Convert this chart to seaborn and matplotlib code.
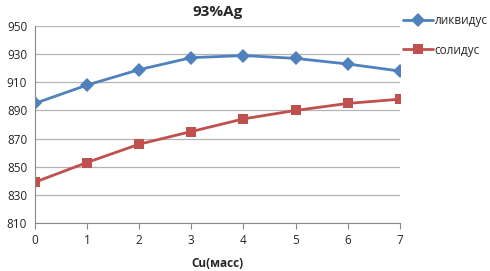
import matplotlib
matplotlib.use('Agg')
import matplotlib.pyplot as plt
import seaborn as sns
import pandas as pd

cu = [0, 1, 2, 3, 4, 5, 6, 7]
liquidus = [895, 908, 919, 927.5, 929, 927, 923, 918]
solidus = [839, 853, 866, 875, 884, 890, 895, 898]

sns.set_style('white')
plt.rcParams['font.family'] = ['Open Sans', 'DejaVu Sans']

df = pd.DataFrame({'Cu': cu + cu,
                   'T': liquidus + solidus,
                   'series': ['ликвидус'] * len(cu) + ['солидус'] * len(cu)})

fig = plt.figure(figsize=(4.9, 2.71), dpi=100)
ax = fig.add_axes([0.071, 0.177, 0.745, 0.727])

sns.lineplot(data=df, x='Cu', y='T', hue='series', style='series',
             palette=['#4F81BD', '#C0504D'], markers=['D', 's'], dashes=False,
             linewidth=2.0, markersize=7.5, markeredgewidth=0, ax=ax)

ax.set_xlim(0, 7)
ax.set_ylim(810, 950)
ax.set_yticks(range(810, 951, 20))
ax.set_xticks(cu)
ax.grid(axis='y', color='#b4b4b4', linewidth=0.9)
ax.set_axisbelow(True)
for s in ['top', 'right']:
    ax.spines[s].set_visible(False)
for s in ['left', 'bottom']:
    ax.spines[s].set_color('#888888')
ax.tick_params(axis='x', bottom=True, length=4, color='#888888', labelsize=8.5, pad=4)
ax.tick_params(axis='y', left=False, labelsize=8.5, pad=2)
ax.set_xlabel('Cu(масс)', fontsize=8.5, fontweight='bold', labelpad=7)
ax.set_ylabel('')
ax.set_title('93%Ag', fontsize=11, fontweight='bold', pad=7)

ax.legend(loc='upper left', bbox_to_anchor=(0.995, 1.085), frameon=False,
          fontsize=8.5, handlelength=2.6, handletextpad=0.1, labelspacing=1.4,
          borderaxespad=0)

fig.savefig('out.png', dpi=100)
